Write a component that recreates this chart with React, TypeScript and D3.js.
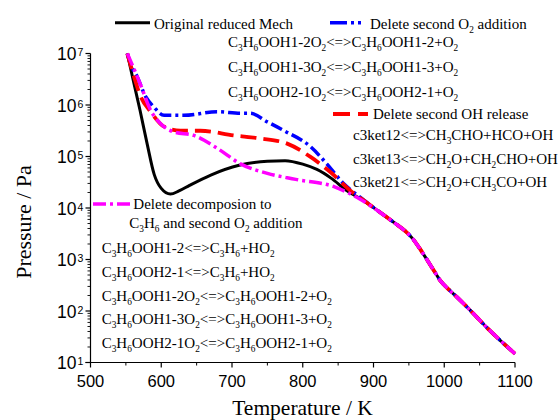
import React from "react";
import * as d3 from "d3";

// ---- Data (Temperature K, Pressure Pa) ----
// common high-temperature branch (all four mechanisms coincide here)
const T_TAIL = [910, 930, 945, 955, 965, 975, 985, 995, 1007, 1018, 1032, 1046, 1062, 1079, 1100];
const P_TAIL = [8.1e3, 5.1e3, 3.55e3, 2.57e3, 1.66e3, 1.02e3, 6.2e2, 3.8e2, 2.57e2, 1.86e2, 1.2e2, 76, 45, 27, 14.8];

const T_ORIG = [552, 560, 570, 580, 590, 600, 613, 625, 640, 670, 710, 750, 775, 800, 820, 840, 862, 885];
const P_ORIG = [1e7, 3.2e6, 7.9e5, 1.78e5, 4.5e4, 2.4e4, 1.86e4, 2.14e4, 2.75e4, 4.37e4, 6.76e4, 8.1e4, 8.3e4, 7.1e4, 5.6e4, 3.8e4, 2.19e4, 1.41e4];

const T_O2 = [552, 556, 566, 578, 589, 604, 632, 679, 712, 726, 750, 773, 811, 834, 858, 881];
const P_O2 = [1e7, 6.5e6, 3.55e6, 1.45e6, 9.3e5, 6.3e5, 6.3e5, 7.4e5, 6.9e5, 6.9e5, 4.7e5, 3.2e5, 1.55e5, 7.2e4, 2.95e4, 1.62e4];

const T_OH = [552, 560, 571, 585, 604, 627, 655, 702, 740, 778, 811, 839, 867, 886];
const P_OH = [1e7, 4.17e6, 1.45e6, 7.4e5, 3.8e5, 3.16e5, 3.16e5, 2.57e5, 2.24e5, 1.78e5, 9.8e4, 5.0e4, 2.19e4, 1.41e4];

const T_DEC = [552, 560, 570, 585, 601, 618, 646, 679, 712, 750, 790, 845, 880];
const P_DEC = [1e7, 5.6e6, 2.63e6, 7.9e5, 4.1e5, 3.0e5, 2.57e5, 1.45e5, 7.2e4, 4.7e4, 3.6e4, 2.57e4, 1.51e4];

const X_TICKS = [500, 600, 700, 800, 900, 1000, 1100];
const X_MINOR = [550, 650, 750, 850, 950, 1050];
const Y_EXPONENTS = [1, 2, 3, 4, 5, 6, 7];

const LEGEND_ORIG = "Original reduced Mech";
const LEGEND_O2 = "Delete second O_2 addition";
const LEGEND_OH = "Delete second OH release";
const LEGEND_DEC_1 = "Delete decomposion to";
const LEGEND_DEC_2 = "C_3H_6 and second O_2 addition";
const O2_REACTIONS = [
  "C_3H_6OOH1-2O_2<=>C_3H_6OOH1-2+O_2",
  "C_3H_6OOH1-3O_2<=>C_3H_6OOH1-3+O_2",
  "C_3H_6OOH2-1O_2<=>C_3H_6OOH2-1+O_2",
];
const OH_REACTIONS = [
  "c3ket12<=>CH_3CHO+HCO+OH",
  "c3ket13<=>CH_2O+CH_2CHO+OH",
  "c3ket21<=>CH_2O+CH_3CO+OH",
];
const DEC_REACTIONS = [
  "C_3H_6OOH1-2<=>C_3H_6+HO_2",
  "C_3H_6OOH2-1<=>C_3H_6+HO_2",
  "C_3H_6OOH1-2O_2<=>C_3H_6OOH1-2+O_2",
  "C_3H_6OOH1-3O_2<=>C_3H_6OOH1-3+O_2",
  "C_3H_6OOH2-1O_2<=>C_3H_6OOH2-1+O_2",
];

const SERIF = "'Liberation Serif', 'Times New Roman', serif";
const SANS = "'Liberation Sans', Arial, sans-serif";

function Rich({ x, y, text, size = 15 }: { x: number; y: number; text: string; size?: number }) {
  const parts: React.ReactNode[] = [];
  let buf = "";
  let shifted = false;
  let key = 0;
  const flush = () => {
    if (buf) {
      parts.push(
        <tspan key={key++} dy={shifted ? -4 : 0}>
          {buf}
        </tspan>
      );
      shifted = false;
      buf = "";
    }
  };
  for (let i = 0; i < text.length; i++) {
    const c = text[i];
    if (c === "_" && i + 1 < text.length) {
      flush();
      parts.push(
        <tspan key={key++} fontSize={size * 0.62} dy={shifted ? 0 : 4}>
          {text[i + 1]}
        </tspan>
      );
      shifted = true;
      i++;
    } else {
      buf += c;
    }
  }
  flush();
  return (
    <text x={x} y={y} fontFamily={SERIF} fontSize={size} fill="#000">
      {parts}
    </text>
  );
}

export default function App() {
  const W = 558;
  const H = 420;
  const x = d3.scaleLinear().domain([500, 1100]).range([90.5, 515]);
  const y = d3.scaleLog().domain([10, 1e7]).range([362.5, 53.5]);

  const line = (ts: number[], ps: number[]) =>
    d3
      .line<number>()
      .x((_, i) => x(ts[i]))
      .y((_, i) => y(ps[i]))
      .curve(d3.curveMonotoneX)(ts) || "";

  const series = [
    { t: T_ORIG, p: P_ORIG, color: "#000000", w: 3, dash: "none" },
    { t: T_O2, p: P_O2, color: "#0000ff", w: 3.5, dash: "12,4,3,4" },
    { t: T_OH, p: P_OH, color: "#ff0000", w: 3.8, dash: "16,7" },
    { t: T_DEC, p: P_DEC, color: "#ff00ff", w: 3.5, dash: "13,4,3,4" },
  ];

  const yMinor: number[] = [];
  for (let e = 1; e < 7; e++) for (let k = 2; k <= 9; k++) yMinor.push(k * Math.pow(10, e));

  const x0 = x(500);
  const yb = y(10);

  return (
    <svg
      width={W}
      height={H}
      style={{ position: "absolute", left: 0, top: 0, background: "#fff" }}
    >
      <rect width={W} height={H} fill="#fff" />
      {/* curves */}
      {series.map((s, i) => (
        <path
          key={i}
          d={line(s.t.concat(T_TAIL), s.p.concat(P_TAIL))}
          fill="none"
          stroke={s.color}
          strokeWidth={s.w}
          strokeDasharray={s.dash}
          strokeLinejoin="round"
        />
      ))}

      {/* axes */}
      <line x1={x0} x2={x0} y1={y(1e7)} y2={yb} stroke="#000" strokeWidth={1.2} />
      <line x1={x0 - 5} x2={x(1100)} y1={yb} y2={yb} stroke="#000" strokeWidth={1.2} />
      {X_TICKS.map((t) => (
        <g key={t}>
          <line x1={x(t)} x2={x(t)} y1={yb} y2={yb + 5} stroke="#000" strokeWidth={1.2} />
          <text x={x(t)} y={386.5} textAnchor="middle" fontFamily={SANS} fontSize={16.5}>
            {t}
          </text>
        </g>
      ))}
      {X_MINOR.map((t) => (
        <line key={t} x1={x(t)} x2={x(t)} y1={yb} y2={yb + 3} stroke="#000" strokeWidth={1} />
      ))}
      {Y_EXPONENTS.map((e) => (
        <g key={e}>
          <line x1={x0 - 5} x2={x0} y1={y(Math.pow(10, e))} y2={y(Math.pow(10, e))} stroke="#000" strokeWidth={1.2} />
          <text x={76.5} y={y(Math.pow(10, e)) + 6.5} textAnchor="end" fontFamily={SANS} fontSize={17.5}>
            10
          </text>
          <text x={77.5} y={y(Math.pow(10, e)) + 2.5} fontFamily={SANS} fontSize={10.5}>
            {e}
          </text>
        </g>
      ))}
      {yMinor.map((v) => (
        <line key={v} x1={x0 - 3} x2={x0} y1={y(v)} y2={y(v)} stroke="#000" strokeWidth={0.9} />
      ))}

      {/* axis titles */}
      <text x={302.5} y={415} textAnchor="middle" fontFamily={SERIF} fontSize={21.5}>
        Temperature / K
      </text>
      <text
        transform={`translate(31,222) rotate(-90)`}
        textAnchor="middle"
        fontFamily={SERIF}
        fontSize={22}
      >
        Pressure / Pa
      </text>

      {/* legends */}
      <line x1={115} x2={150} y1={22.7} y2={22.7} stroke="#000" strokeWidth={3} />
      <Rich x={154} y={28.5} text={LEGEND_ORIG} />
      <line x1={330} x2={365} y1={22.7} y2={22.7} stroke="#0000ff" strokeWidth={3.5} strokeDasharray="17,4,3,4,3,4" />
      <Rich x={370} y={28.5} text={LEGEND_O2} />
      {O2_REACTIONS.map((r, i) => (
        <Rich key={r} x={228} y={46.7 + i * 25} text={r} />
      ))}
      <line x1={333} x2={368} y1={114} y2={114} stroke="#ff0000" strokeWidth={3.8} strokeDasharray="17,8" />
      <Rich x={373} y={119.3} text={LEGEND_OH} />
      {OH_REACTIONS.map((r, i) => (
        <Rich key={r} x={353} y={140 + i * 23.5} text={r} />
      ))}
      <line x1={93} x2={130} y1={204} y2={204} stroke="#ff00ff" strokeWidth={3.5} strokeDasharray="13,4,3,4" />
      <Rich x={133.3} y={209} text={LEGEND_DEC_1} />
      <Rich x={129.3} y={228.3} text={LEGEND_DEC_2} />
      {DEC_REACTIONS.map((r, i) => (
        <Rich key={i} x={101.7} y={253 + i * 23.8} text={r} />
      ))}
    </svg>
  );
}
